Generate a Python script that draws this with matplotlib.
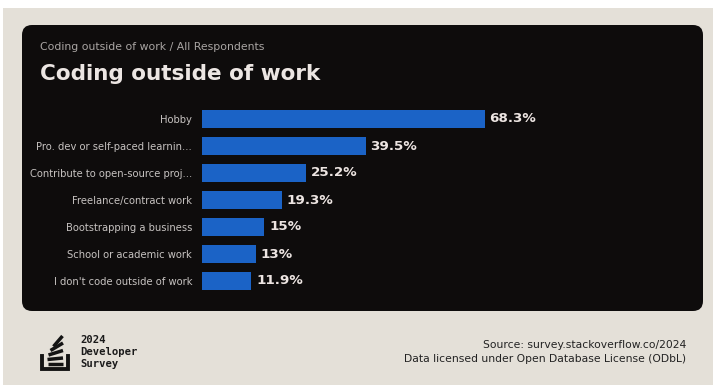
import matplotlib
matplotlib.use("Agg")
import matplotlib.pyplot as plt
from matplotlib.patches import FancyBboxPatch, Rectangle
from matplotlib.lines import Line2D
from matplotlib.transforms import Affine2D

categories = [
    "Hobby",
    "Pro. dev or self-paced learnin...",
    "Contribute to open-source proj...",
    "Freelance/contract work",
    "Bootstrapping a business",
    "School or academic work",
    "I don't code outside of work",
]
values = [68.3, 39.5, 25.2, 19.3, 15, 13, 11.9]
value_labels = ["68.3%", "39.5%", "25.2%", "19.3%", "15%", "13%", "11.9%"]

W, H = 713, 385
BG = "#e4e0d8"
PANEL = "#0e0c0c"
BAR = "#1b63c6"

fig = plt.figure(figsize=(W / 100, H / 100), dpi=100, facecolor=BG)

# pixel transform, origin top-left
px = Affine2D().scale(1.0 / W, -1.0 / H).translate(0, 1) + fig.transFigure

fig.patches.append(Rectangle((0, 0), W, 8, transform=px, facecolor="white",
                             edgecolor="none", zorder=0))
fig.patches.append(Rectangle((0, 0), 3, H, transform=px, facecolor="white",
                             edgecolor="none", zorder=0))
fig.patches.append(FancyBboxPatch((32, 35), 661, 266, boxstyle="round,pad=10",
                                  transform=px, facecolor=PANEL,
                                  edgecolor="none", zorder=1))

fig.text(40 / W, 1 - 47 / H, "Coding outside of work / All Respondents",
         color="#a9a5a3", fontsize=7.8, va="center", ha="left")
fig.text(40 / W, 1 - 74 / H, "Coding outside of work", color="#ece6e3",
         fontsize=15.5, fontweight="bold", va="center", ha="left")

# bar axes: x 0..100 spans 414 px, 7 rows of 27 px
ax = fig.add_axes([202 / W, 1 - 294.5 / H, 414 / W, 189 / H])
ax.set_facecolor("none")
ax.set_zorder(3)
ypos = list(range(len(categories)))
bars = ax.barh(ypos, values, height=0.63, color=BAR, edgecolor="none")
ax.set_xlim(0, 100)
ax.set_ylim(len(categories) - 0.5, -0.5)
ax.set_yticks(ypos)
ax.set_yticklabels(categories, color="#c6c2c0", fontsize=7.2)
ax.tick_params(axis="y", length=0, pad=7.2)
ax.set_xticks([])
for s in ax.spines.values():
    s.set_visible(False)
for y, v, lab in zip(ypos, values, value_labels):
    ax.annotate(lab, (v, y), xytext=(3.5, 0), textcoords="offset points",
                va="center", ha="left", color="#ede5e2", fontsize=9.7,
                fontweight="bold")

# logo
logo = [
    ((47.5, 364), (63, 364)),
    ((47.5, 359.5), (63, 358)),
    ((48.5, 355), (63, 350.5)),
    ((50.5, 350.5), (63, 343)),
    ((53.5, 346.5), (62.5, 336)),
]
for (x0, y0), (x1, y1) in logo:
    fig.lines.append(Line2D([x0, x1], [y0, y1], transform=px, color="#141414",
                            linewidth=2.5, solid_capstyle="butt"))
fig.lines.append(Line2D([42, 42, 67.5, 67.5], [355.5, 368.5, 368.5, 355.5],
                        transform=px, color="#141414", linewidth=2.8,
                        solid_joinstyle="miter"))
for i, t in enumerate(["2024", "Developer", "Survey"]):
    fig.text(80 / W, 1 - (340 + 12 * i) / H, t, family="DejaVu Sans Mono",
             fontweight="bold", fontsize=7.6, color="#1a1a1a", va="center",
             ha="left")

fig.text(686 / W, 1 - 345 / H, "Source: survey.stackoverflow.co/2024",
         color="#222222", fontsize=7.75, ha="right", va="center")
fig.text(686 / W, 1 - 359 / H, "Data licensed under Open Database License (ODbL)",
         color="#222222", fontsize=7.75, ha="right", va="center")

fig.savefig("out.png", dpi=100, facecolor=BG)
